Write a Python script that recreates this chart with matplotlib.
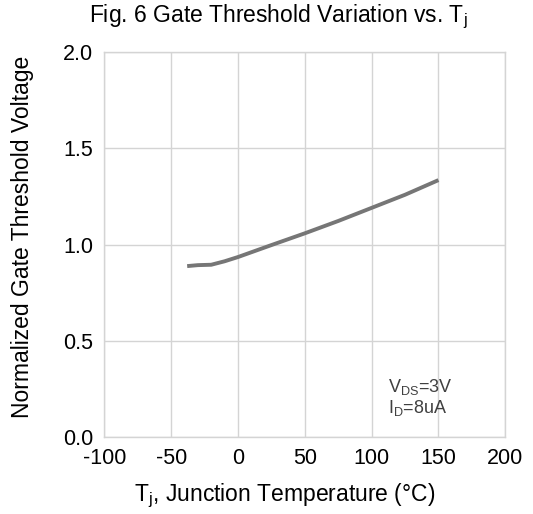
import matplotlib
matplotlib.use("Agg")
import matplotlib.pyplot as plt

plt.rcParams["font.family"] = ["Liberation Sans", "DejaVu Sans"]
plt.rcParams["mathtext.fontset"] = "custom"
plt.rcParams["mathtext.rm"] = "Liberation Sans"
plt.rcParams["mathtext.it"] = "Liberation Sans"
plt.rcParams["axes.unicode_minus"] = False

# curve
temps = [-38, -30, -20, -10, 0, 25, 50, 75, 100, 125, 150]
vth_norm = [0.888, 0.893, 0.895, 0.913, 0.935, 0.997, 1.058, 1.122, 1.19, 1.258, 1.334]

x_ticks = [-100, -50, 0, 50, 100, 150, 200]
y_ticks = [0.0, 0.5, 1.0, 1.5, 2.0]

fig = plt.figure(figsize=(5.33, 5.14), dpi=100)
ax = fig.add_axes([0.1957, 0.1492, 0.7523, 0.7502])

ax.plot(temps, vth_norm, color="#767676", lw=2.8, solid_capstyle="butt")

ax.set_xlim(-100, 200)
ax.set_ylim(0, 2.0)
ax.set_xticks(x_ticks)
ax.set_yticks(y_ticks)
ax.set_yticklabels([f"{v:.1f}" for v in y_ticks])
ax.tick_params(length=0, labelsize=15.5, pad=8)
ax.grid(True, color="#d4d4d4", lw=1.0)
for s in ax.spines.values():
    s.set_color("#d4d4d4")
    s.set_linewidth(1.0)

ax.set_xlabel(r"T$_{\mathrm{j}}$, Junction Temperature (°C)", fontsize=16.5, va="center")
ax.xaxis.set_label_coords(0.45, -0.152)
ax.set_ylabel("Normalized Gate Threshold Voltage", fontsize=16.5, va="center")
ax.yaxis.set_label_coords(-0.203, 0.52)
fig.text(278 / 533, 1 - 17 / 514, r"Fig. 6 Gate Threshold Variation vs. T$_{\mathrm{j}}$",
         ha="center", va="center", fontsize=16.5)

ax.text(112, 0.263, r"V$_{\mathrm{DS}}$=3V", fontsize=13, color="#404040", va="center")
ax.text(112, 0.15, r"I$_{\mathrm{D}}$=8uA", fontsize=13, color="#404040", va="center")

fig.savefig("out.png", dpi=100)
